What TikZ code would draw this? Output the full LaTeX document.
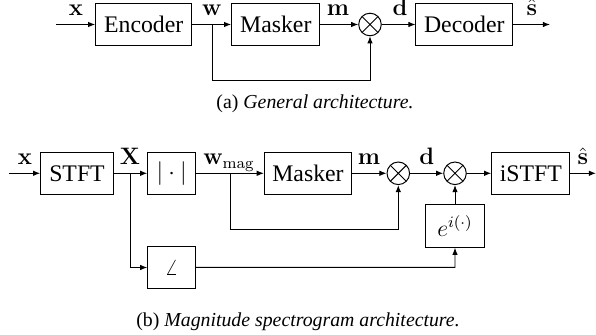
\documentclass[tikz,border=0pt]{standalone}
\usepackage[no-math]{fontspec}
\setmainfont{Liberation Serif}
\usetikzlibrary{arrows.meta}
\tikzset{
  blk/.style={draw, line width=0.5pt, minimum height=21.5pt, inner sep=0pt, font=\fontsize{12}{14}\selectfont},
  mult/.style={draw, circle, line width=0.5pt, minimum size=11.4pt, inner sep=0pt,
    path picture={\draw[line width=0.5pt] (path picture bounding box.north west) -- (path picture bounding box.south east)
      (path picture bounding box.north east) -- (path picture bounding box.south west);}},
  arr/.style={line width=0.5pt, -{Latex[length=3.6pt,width=2.8pt]}},
  lbl/.style={anchor=base, inner sep=0pt, font=\fontsize{12}{14}\selectfont},
  captxt/.style={anchor=base, inner sep=0pt, font=\fontsize{10}{12}\selectfont}
}
\begin{document}
\begin{tikzpicture}[x=0.505pt, y=-0.505pt]
\useasboundingbox (0,0) rectangle (596,335);
% (a)
\node[blk, minimum width=48.5pt] (enc) at (143.7,24.5) {Encoder};
\node[blk, minimum width=44.6pt] (maskA) at (275.8,24.5) {Masker};
\node[mult] (mulA) at (370,24.5) {};
\node[blk, minimum width=48.8pt] (dec) at (464.3,24.5) {Decoder};
\coordinate (inA) at (56,24.5);
\coordinate (outA) at (550,24.5);
\coordinate (brA) at (212,24.5);
\coordinate (fbA) at (370,80.7);
\draw[arr] (inA) -- (enc);
\draw[arr] (enc) -- (maskA);
\draw[arr] (maskA) -- (mulA);
\draw[arr] (mulA) -- (dec);
\draw[arr] (dec) -- (outA);
\draw[arr] (brA) |- (fbA) -- (mulA);
\node[lbl] (lxA) at (76,16) {$\mathbf{x}$};
\node[lbl] (lwA) at (212,16) {$\mathbf{w}$};
\node[lbl] (lmA) at (338,16) {$\mathbf{m}$};
\node[lbl] (ldA) at (400,16) {$\mathbf{d}$};
\node[lbl] (lsA) at (532,16) {$\hat{\mathbf{s}}$};
\node[captxt] (capA) at (315,108.5) {(a) \textit{General architecture.}};
% (b)
\node[blk, minimum width=36.7pt] (stft) at (77,173.3) {STFT};
\node[blk, minimum width=24.2pt] (abs) at (171.7,173.3) {$|\cdot|$};
\node[blk, minimum width=44.1pt] (maskB) at (308,173.3) {Masker};
\node[mult] (mulB) at (398.3,173.3) {};
\node[mult] (mulC) at (455,173.3) {};
\node[blk, minimum width=39.5pt] (istft) at (530.8,173.3) {iSTFT};
\node[blk, minimum width=29.3pt, minimum height=21.7pt] (ebox) at (455,225.8) {$e^{i(\cdot)}$};
\node[blk, minimum width=24.2pt, minimum height=21.7pt] (ang) at (171.7,267.5) {$\angle$};
\coordinate (inB) at (9.3,173.3);
\coordinate (outB) at (596,173.3);
\coordinate (brX) at (130,173.3);
\coordinate (brW) at (230,173.3);
\coordinate (fbB) at (398.3,229.3);
\coordinate (phB) at (455,267.3);
\draw[arr] (inB) -- (stft);
\draw[arr] (stft) -- (abs);
\draw[arr] (abs) -- (maskB);
\draw[arr] (maskB) -- (mulB);
\draw[arr] (mulB) -- (mulC);
\draw[arr] (mulC) -- (istft);
\draw[arr] (istft) -- (outB);
\draw[arr] (brX) |- (ang);
\draw[arr] (brW) |- (fbB) -- (mulB);
\draw[arr] (ang) -- (phB) -- (ebox);
\draw[arr] (ebox) -- (mulC);
\node[lbl] (lxB) at (25,164.5) {$\mathbf{x}$};
\node[lbl] (lXB) at (130,164.5) {$\mathbf{X}$};
\node[lbl] (lwB) at (229,164.5) {$\mathbf{w}_{\mathrm{mag}}$};
\node[lbl] (lmB) at (369,164.5) {$\mathbf{m}$};
\node[lbl] (ldB) at (426.7,164.5) {$\mathbf{d}$};
\node[lbl] (lsB) at (583,164.5) {$\hat{\mathbf{s}}$};
\node[captxt] (capB) at (298,327) {(b) \textit{Magnitude spectrogram architecture.}};
\end{tikzpicture}
\end{document}
